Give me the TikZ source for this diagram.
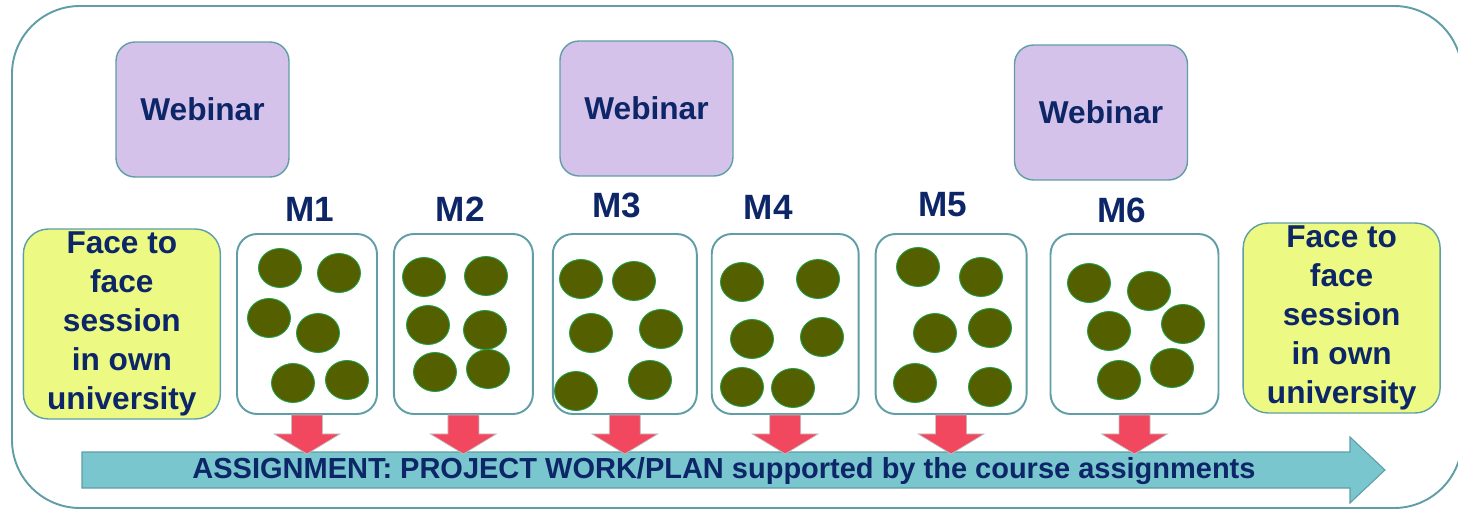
\documentclass[tikz,border=0pt]{standalone}
\usepackage{fontspec}
\setmainfont{Liberation Sans}
\usepackage{tikz}
\usetikzlibrary{positioning, calc}
\definecolor{navy}{HTML}{0D2667}
\definecolor{edge}{HTML}{5F9EA6}
\definecolor{lavender}{HTML}{D5C2EA}
\definecolor{lime}{HTML}{ECFA84}
\definecolor{olive}{HTML}{546000}
\definecolor{dotedge}{HTML}{1FA04A}
\definecolor{redpink}{HTML}{F2485F}
\definecolor{planteal}{HTML}{79C6CF}
\tikzstyle{web}=[%
      rectangle, rounded corners=0.38cm, draw=edge, line width=0.8pt, fill=lavender,
      minimum width=3.46cm, minimum height=2.7cm, inner sep=0pt,
      text=navy, font=\fontsize{18}{22}\selectfont\bfseries
]
\tikzstyle{ff}=[%
      rectangle, rounded corners=0.5cm, draw=edge, line width=0.8pt, fill=lime,
      minimum width=3.94cm, minimum height=3.8cm, inner sep=0pt, align=center,
      text=navy, font=\fontsize{18}{22.2}\selectfont\bfseries
]
\tikzstyle{mod}=[%
      rectangle, rounded corners=0.4cm, draw=edge, line width=1.1pt, fill=white,
      minimum height=3.6cm, inner sep=0pt
]
\tikzstyle{lbl}=[%
      inner sep=0pt, text=navy, font=\fontsize{20}{24}\selectfont\bfseries
]
\tikzstyle{dot}=[fill=olive, draw=dotedge, line width=0.5pt]
\tikzstyle{drop}=[fill=redpink, draw=gray!50, line width=0.4pt]
\tikzstyle{plan}=[fill=planteal, draw=edge, line width=0.6pt]

\begin{document}
\begin{tikzpicture}[x=0.02cm, y=-0.02cm]
    \useasboundingbox (0,0) rectangle (1458,510);
    \draw[edge, line width=1.1pt, rounded corners=1.36cm] (12,6) rectangle (1462,508);

    % modules
    \node[mod, minimum width=2.8cm]   (m1) at (307,324)          {};
    \node[mod, minimum width=2.78cm]  (m2) [right=0.3cm of m1]  {};
    \node[mod, minimum width=2.88cm]  (m3) [right=0.36cm of m2] {};
    \node[mod, minimum width=2.94cm]  (m4) [right=0.26cm of m3] {};
    \node[mod, minimum width=3.02cm]  (m5) [right=0.3cm of m4]  {};
    \node[mod, minimum width=3.36cm]  (m6) [right=0.44cm of m5] {};

    \node[lbl] (l1) [above=0.22cm of m1, xshift=0.06cm]  {M1};
    \node[lbl] (l2) [above=0.22cm of m2, xshift=-0.06cm] {M2};
    \node[lbl] (l3) [above=0.3cm of m3, xshift=-0.16cm]  {M3};
    \node[lbl] (l4) [above=0.26cm of m4, xshift=-0.34cm] {M4};
    \node[lbl] (l5) [above=0.32cm of m5, xshift=-0.16cm] {M5};
    \node[lbl] (l6) [above=0.2cm of m6, xshift=-0.26cm]  {M6};

    \node[ff] (f1) [left=0.3cm of m1]  {Face to\\face\\session\\in own\\university};
    \node[ff] (f2) [right=0.46cm of m6, yshift=0.12cm] {Face to\\face\\session\\in own\\university};

    \node[web] (w1) at (202.5,109.5) {Webinar};
    \node[web] (w2) at (646.5,108.5) {Webinar};
    \node[web] (w3) at (1101,112.5)  {Webinar};

    % contents of the modules
    \foreach \cx/\cy in {280/268, 339/273, 269/318, 318/333, 293/383, 347/380,
                         424/277, 486/276, 428/325, 485/330, 435/372, 488/369,
                         581/279, 634/281, 591/333, 661/329, 576/391, 650/380,
                         742/282, 818/279, 752/339, 822/337, 742/387, 793/388,
                         918/267, 981/277, 935/333, 990/328, 915/383, 990/387,
                         1089/283, 1149/291, 1109/331, 1183/324, 1119/380, 1172/368}
        \filldraw[dot] (\cx,\cy) ellipse [x radius=0.43cm, y radius=0.39cm];

    % assignment arrow
    \path[plan] (82,452) -- (1350,452) -- (1350,437) -- (1385,470)
                -- (1350,503) -- (1350,488) -- (82,488) -- cycle;
    \node[text=navy, font=\fontsize{16.5}{20}\selectfont\bfseries] (pl) at (724,471)
        {ASSIGNMENT: PROJECT WORK/PLAN supported by the course assignments};

    \foreach \i in {1,...,6}
        \path[drop] (m\i.south) ++(-15.5,0) -- ++(0,19) -- ++(-17.5,0) -- ++(33,20)
                    -- ++(33,-20) -- ++(-17.5,0) -- ++(0,-19) -- cycle;
\end{tikzpicture}
\end{document}
